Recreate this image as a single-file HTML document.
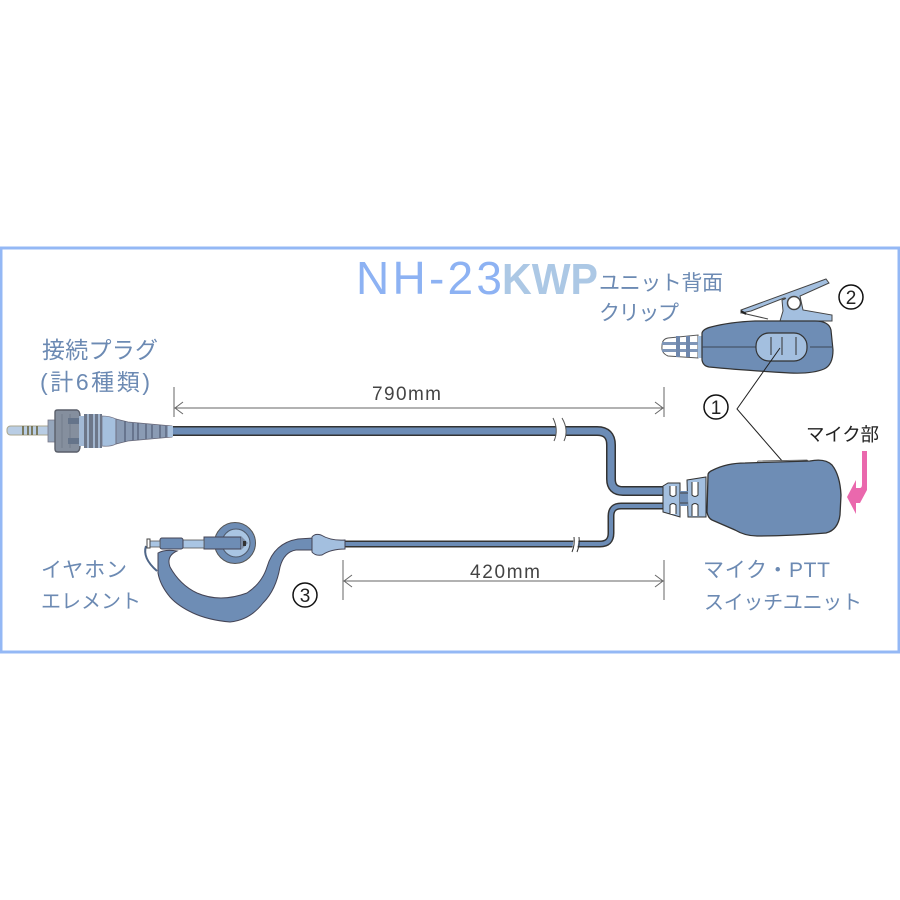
<!DOCTYPE html>
<html><head><meta charset="utf-8">
<style>
html,body{margin:0;padding:0;background:#fff;width:900px;height:900px;overflow:hidden}
svg{display:block;filter:blur(.35px)}
.l{font-family:"Liberation Sans","Noto Sans CJK JP",sans-serif;fill:#6c8ab3;font-size:21px}
.k{font-family:"Liberation Sans","Noto Sans CJK JP",sans-serif;fill:#222}
.d{font-family:"Liberation Sans",sans-serif;fill:#444;font-size:19px}
.c{fill:none;stroke:#111;stroke-width:1.5}
.dim{stroke:#666;stroke-width:1;fill:none}
</style></head><body>
<svg width="900" height="900" viewBox="0 0 900 900" xmlns="http://www.w3.org/2000/svg">
<rect x="1" y="248" width="898" height="404" fill="#fff" stroke="#94b8f5" stroke-width="3"/>

<text x="356" y="294" font-family="Liberation Sans,sans-serif" font-size="46" fill="#8db2f3" textLength="146" lengthAdjust="spacing">NH-23</text>
<text x="502" y="294" font-family="Liberation Sans,sans-serif" font-size="44" font-weight="bold" fill="#acc8e5" textLength="96" lengthAdjust="spacingAndGlyphs">KWP</text>

<text class="l" x="599" y="290" textLength="124">ユニット背面</text>
<text class="l" x="599" y="320" textLength="80">クリップ</text>
<text class="l" x="42" y="358" style="font-size:23px" textLength="116">接続プラグ</text>
<text class="l" x="40" y="390" style="font-size:23px" textLength="110">(計6種類)</text>
<text class="l" x="41" y="577" textLength="86">イヤホン</text>
<text class="l" x="41" y="608" style="font-size:20px" textLength="100">エレメント</text>
<text class="l" x="703" y="577" textLength="127">マイク・PTT</text>
<text class="l" x="704" y="609" style="font-size:20px" textLength="158">スイッチユニット</text>
<text class="k" x="806" y="441" font-size="18.500" textLength="73">マイク部</text>

<!-- dimensions -->
<g class="dim">
<path d="M174 387V417M664 387V417M174 408H664M663 408l-8-6M663 408l-8 6M175 408l8-6M175 408l8 6"/>
<path d="M343 560V600M664 560V600M343 581H664M663 581l-8-6M663 581l-8 6M344 581l8-6M344 581l8 6"/>
</g>
<text class="d" x="372" y="400" textLength="69">790mm</text>
<text class="d" x="470" y="578" textLength="70">420mm</text>

<!-- cables -->
<path d="M170 431H597Q611 431 611 445V479Q611 491 623 491H668" fill="none" stroke="#333" stroke-width="10"/>
<path d="M170 431H597Q611 431 611 445V479Q611 491 623 491H668" fill="none" stroke="#6c8cb6" stroke-width="7"/>
<path d="M340 544H600Q611 544 611 533V516Q611 506 621 506H668" fill="none" stroke="#333" stroke-width="7"/>
<path d="M340 544H600Q611 544 611 533V516Q611 506 621 506H668" fill="none" stroke="#6c8cb6" stroke-width="4"/>
<!-- cable breaks -->
<path d="M553 418Q559 430 554 441H564Q569 430 562 418Z" fill="#fff"/>
<path d="M553 418Q559 430 554 441M562 418Q569 430 564 441" fill="none" stroke="#555" stroke-width="1"/>
<path d="M574 537L572 551H577L579 537Z" fill="#fff"/>
<path d="M574 537Q575 545 572 552M579 537Q580 545 577 552" fill="none" stroke="#333" stroke-width="1"/>

<!-- plug -->
<rect x="7" y="426" width="44" height="9" rx="3.500" fill="#b9cde4" stroke="#a9a68f" stroke-width="1"/>
<path d="M23 426v9M28 426v9M32 426v9M37 426v9" stroke="#6b6540" stroke-width="1.600"/>
<path d="M48 420H55V442H48Z" fill="#95a6bc" stroke="#778" stroke-width=".8"/>
<path d="M55 412Q55 410 58 410H77Q80 411 80 416V446Q80 451 77 452H58Q55 452 55 449Z" fill="#858f9e" stroke="#5a5f6a" stroke-width="1.400"/>
<path d="M62 414V448M70 414V448" stroke="#737d8c" stroke-width="1"/>
<rect x="68" y="418" width="11" height="6" fill="#65748a"/><rect x="68" y="438" width="11" height="6" fill="#65748a"/>
<rect x="79" y="416" width="5" height="30" fill="#a3bad6"/>
<path d="M84 414H102V448H84Z" fill="#6d7789"/>
<path d="M88 414v34M94 414v34M99 414v34" stroke="#a7bcd6" stroke-width="1.800"/>
<path d="M102 416Q110 416 116 419V444Q110 447 102 446Z" fill="#a5c0de" stroke="#778" stroke-width=".8"/>
<path d="M116 419L128 422L172 426V437L128 441L116 444Z" fill="#8a9bb4" stroke="#667" stroke-width=".8"/>
<path d="M125 421v21M133 423v17M138 423v17M146 424v15M152 425v13M160 425v13M166 426v11" stroke="#55617a" stroke-width="1.300"/>
<rect x="168" y="426" width="5" height="11" fill="#a8c0dc"/>

<!-- clip -->
<path d="M741 313L741 310L826 279L829 283L800 296L803 310L832 315L832 321L780 321L783 311L782 300Q788 298 784 298L751 311Z" fill="#a3bfdf" stroke="#444" stroke-width="1"/>
<path d="M742 313L768 319" fill="none" stroke="#444" stroke-width="1"/>
<circle cx="794" cy="303" r="6.500" fill="#fff" stroke="#444" stroke-width="1.500"/>
<path d="M741 311l5 3" stroke="#222" stroke-width="2"/>
<!-- clip unit -->
<path d="M668 338L698 335V358L668 356Q661 353 662 346Q662 339 668 338Z" fill="#fff" stroke="#555" stroke-width="1"/>
<path d="M662 342H698V345H662ZM662 349H698V352H662Z" fill="#7f96b8"/>
<path d="M678 336v21M688 336v21" stroke="#6e87ad" stroke-width="4"/>
<path d="M698 336H702V358H698Z" fill="#a3bfdf"/>
<path d="M702 333Q703 329 711 327Q730 322 755 321H815Q829 321 831 330L833 350Q833 365 824 369Q812 374 790 373Q740 370 709 367Q703 366 702 360Z" fill="#6e8db5" stroke="#333" stroke-width="1.200"/>
<path d="M702 347H757M810 347H833" stroke="#3c4657" stroke-width="1"/>
<rect x="756" y="333" width="51" height="28" rx="13" fill="#a3bfdf" stroke="#333" stroke-width="1.200"/>
<path d="M771 337V355M782 337V355M796 337V355" stroke="#333" stroke-width="1"/>

<!-- leader lines -->
<path d="M780 348L737 409L783 462" fill="none" stroke="#222" stroke-width="1"/>

<!-- mic flap -->
<path d="M757 463L758 461L807 460L809 462Z" fill="#e9edf2" stroke="#555" stroke-width=".8"/>
<!-- strain relief -->
<path d="M663 486L668 483H680V517L670 514L663 512Z" fill="#a3bfdf" stroke="#333" stroke-width="1"/>
<path d="M687 480L706 477V517L688 517Z" fill="#a3bfdf" stroke="#333" stroke-width="1"/>
<rect x="680" y="491" width="8" height="15" fill="#6e8db5"/>
<path d="M670 486v9q3 3 6 0v-9M670 514v-9q3-3 6 0v9M692 482v13q3 3 6 0v-13M692 516v-11q3-3 6 0v11" fill="#fff" stroke="#333" stroke-width="1"/>
<path d="M680 493h8M680 503h8" stroke="#444" stroke-width="1"/>
<!-- mic unit -->
<path d="M708 475Q708 472 713 470Q727 463 745 463L810 461Q825 458 832 465Q840 475 841 495L840 515Q838 530 826 533Q790 536 757 536Q745 536 735 530L712 520Q708 518 707 512Z" fill="#6e8db5" stroke="#333" stroke-width="1.300"/>

<!-- pink arrow -->
<path d="M862 451H867V490L860 503H856V514L847 497L856 480V488H860Q862 488 862 484Z" fill="#ea68ad"/>

<!-- earphone -->
<circle cx="235" cy="543" r="20.500" fill="#6e8db5" stroke="#555" stroke-width="1"/>
<circle cx="236" cy="543" r="14" fill="#a9c5e3" stroke="#4f5a6c" stroke-width="1"/>
<path d="M204 537H241V549H204Z" fill="#6e8db5" stroke="#445" stroke-width="1"/>
<path d="M241 536L248 543L241 550Z" fill="#7b8ca5"/>
<rect x="243" y="541" width="3" height="5" fill="#333"/>
<rect x="183" y="540" width="21" height="8" fill="#a9c5e3" stroke="#555" stroke-width=".8"/>
<path d="M146 546Q142 558 157 571" fill="none" stroke="#4f6688" stroke-width="2"/>
<path d="M158 553Q165 549 177 551Q166 556 170 567Q180 585 197 593Q220 603 247 593Q262 583 267 567Q274 543 298 539L313 538V550L296 550Q284 552 280 567Q276 590 263 603Q250 620 230 622Q208 620 193 613Q178 606 170 597Q160 585 158 573Z" fill="#6e8db5" stroke="#445" stroke-width="1"/>
<rect x="160" y="538" width="23" height="11" rx="2" fill="#6e8db5" stroke="#445" stroke-width="1"/>
<rect x="149" y="541" width="11" height="6" fill="#a9c5e3" stroke="#555" stroke-width=".8"/>
<path d="M147 539h3v9h-3z" fill="#fff" stroke="#444" stroke-width="1"/>
<path d="M312 537Q315 533 321 535Q331 541 345 540V549Q331 549 322 555Q315 556 312 552Z" fill="#a3bfdf" stroke="#445" stroke-width="1"/>

<!-- circled numbers -->
<g class="c">
<circle cx="716" cy="407" r="12"/>
<circle cx="851" cy="297" r="12"/>
<circle cx="305" cy="595" r="12"/>
</g>
<g font-family="Liberation Sans,sans-serif" font-size="19" fill="#222" text-anchor="middle">
<text x="716" y="414">1</text>
<text x="851" y="304">2</text>
<text x="305" y="602">3</text>
</g>
</svg>
</body></html>
